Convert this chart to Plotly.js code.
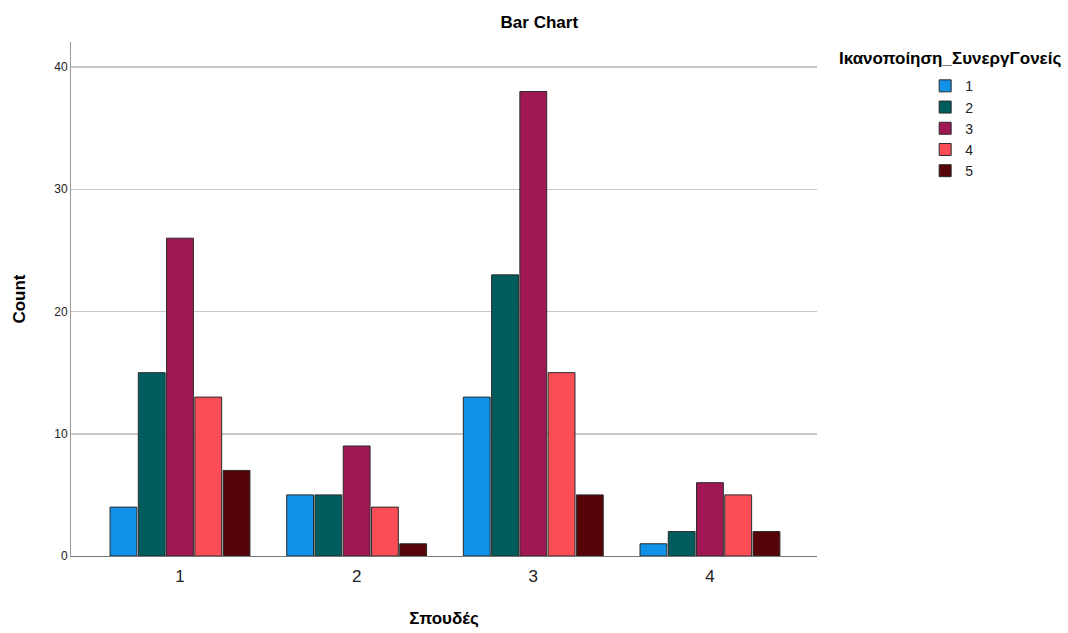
<!DOCTYPE html>
<html>
<head>
<meta charset="utf-8">
<script src="https://cdn.plot.ly/plotly-3.0.1.min.js"></script>
<style>html,body{margin:0;padding:0;background:#fff;}#chart{width:1068px;height:633px;}</style>
</head>
<body>
<div id="chart"></div>
<script>
var categories = ["1", "2", "3", "4"];
var seriesNames = ["1", "2", "3", "4", "5"];
var s1 = [4, 5, 13, 1];
var s2 = [15, 5, 23, 2];
var s3 = [26, 9, 38, 6];
var s4 = [13, 4, 15, 5];
var s5 = [7, 1, 5, 2];
var seriesValues = [s1, s2, s3, s4, s5];
var colors = ["#1192e8", "#005d5d", "#9f1853", "#fa4d56", "#570408"];
var yTicks = [0, 10, 20, 30, 40];

var traces = seriesValues.map(function (vals, i) {
  return {
    type: "bar",
    name: seriesNames[i],
    x: categories,
    y: vals,
    marker: {color: colors[i], line: {color: "#2b2b2b", width: 1}},
    hoverinfo: "x+y+name"
  };
});

var fnt = "Liberation Sans, Arial, sans-serif";
var layout = {
  width: 1068, height: 633,
  margin: {l: 71, r: 251, t: 42, b: 77},
  paper_bgcolor: "#fff", plot_bgcolor: "#fff",
  font: {family: fnt, color: "#000"},
  title: {text: "<b>Bar Chart</b>", font: {size: 17, family: fnt}, x: 0.505, xanchor: "center", y: 0.965, yanchor: "middle", xref: "container", yref: "container"},
  barmode: "group",
  bargap: 0.2,
  bargroupgap: 0.05,
  xaxis: {
    type: "category",
    range: [-0.617, 3.606],
    showline: true, linecolor: "#777", linewidth: 1,
    ticks: "", showgrid: false, zeroline: false,
    tickfont: {size: 17, color: "#222"},
    ticklabelstandoff: 5,
    title: {text: "<b>Σπουδές</b>", font: {size: 17}, standoff: 26}
  },
  yaxis: {
    range: [0, 42.05],
    tickvals: yTicks,
    showline: true, linecolor: "#999", linewidth: 1,
    ticks: "", showgrid: true, gridcolor: "#c8c8c8", gridwidth: 1.5, zeroline: false,
    tickfont: {size: 12, color: "#222"},
    title: {text: "<b>Count</b>", font: {size: 17}, standoff: 24}
  },
  legend: {
    x: 1.145, xanchor: "left", y: 0.945, yanchor: "top",
    font: {size: 14, color: "#222"},
    tracegroupgap: 0,
    itemwidth: 30
  },
  annotations: [{
    text: "<b>Ικανοποίηση_ΣυνεργΓονείς</b>",
    xref: "paper", yref: "paper",
    x: 1.178, y: 0.967, xanchor: "center", yanchor: "middle",
    showarrow: false, font: {size: 17, family: fnt, color: "#000"}
  }],
  showlegend: true
};

Plotly.newPlot("chart", traces, layout, {displayModeBar: false, staticPlot: true});
</script>
</body>
</html>
